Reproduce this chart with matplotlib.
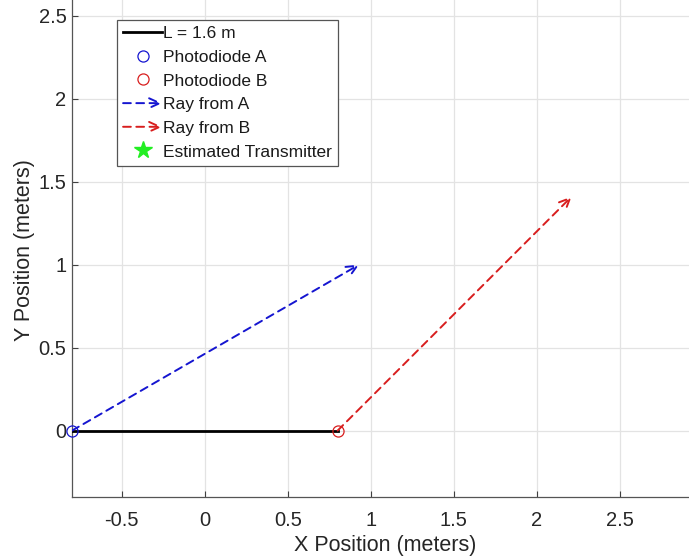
import matplotlib
matplotlib.use("Agg")
import matplotlib.pyplot as plt
from matplotlib.patches import FancyArrowPatch
from matplotlib.legend_handler import HandlerBase

# ---- data ----
baseline_x = [-0.8, 0.8]
baseline_y = [0.0, 0.0]
baseline_label = "L = 1.6 m"
photodiode_A = [-0.8, 0.0]
photodiode_B = [0.8, 0.0]
ray_A_start = [-0.8, 0.0]
ray_A_end = [0.93, 1.0]
ray_B_start = [0.8, 0.0]
ray_B_end = [2.21, 1.41]
transmitter = [2.97, 2.20]
x_ticks = [-0.5, 0, 0.5, 1, 1.5, 2, 2.5]
x_tick_labels = ["-0.5", "0", "0.5", "1", "1.5", "2", "2.5"]
y_ticks = [0, 0.5, 1, 1.5, 2, 2.5]
y_tick_labels = ["0", "0.5", "1", "1.5", "2", "2.5"]

plt.rcParams['font.family'] = ['Liberation Sans', 'DejaVu Sans']

W, H = 689, 558
fig = plt.figure(figsize=(W / 100, H / 100), dpi=100)
left_px, bottom_px = 72, 497
ax = fig.add_axes([left_px / W, (H - bottom_px) / H, 1 - left_px / W, bottom_px / H])

px_per_unit = 166.0
ax.set_xlim(-0.8, -0.8 + (W - left_px) / px_per_unit)
ax.set_ylim(-0.4, -0.4 + bottom_px / px_per_unit)

ax.grid(True, color='#e3e3e3', linewidth=0.9)
ax.set_axisbelow(True)

blue = '#1515d0'
red = '#d81e1e'

ln, = ax.plot(baseline_x, baseline_y, color='black', linewidth=2.0, label=baseline_label, zorder=3)
pa, = ax.plot([photodiode_A[0]], [photodiode_A[1]], 'o', mfc='none', mec=blue, ms=8,
              mew=0.9, label='Photodiode A', clip_on=False, zorder=4, linestyle='none')
pb, = ax.plot([photodiode_B[0]], [photodiode_B[1]], 'o', mfc='none', mec=red, ms=8,
              mew=0.9, label='Photodiode B', clip_on=False, zorder=4, linestyle='none')

dash = (0, (4.0, 2.8))
arrow_style = '->,head_length=0.55,head_width=0.25'
ra = FancyArrowPatch(tuple(ray_A_start), tuple(ray_A_end), arrowstyle=arrow_style,
                     mutation_scale=14, color=blue, linewidth=1.4, linestyle=dash,
                     shrinkA=0, shrinkB=0, zorder=3)
rb = FancyArrowPatch(tuple(ray_B_start), tuple(ray_B_end), arrowstyle=arrow_style,
                     mutation_scale=14, color=red, linewidth=1.4, linestyle=dash,
                     shrinkA=0, shrinkB=0, zorder=3)
ax.add_patch(ra)
ax.add_patch(rb)

st, = ax.plot([transmitter[0]], [transmitter[1]], '*', color='#22ee22', ms=13,
              label='Estimated Transmitter', clip_on=False, zorder=5, linestyle='none')


class HandlerArrow(HandlerBase):
    def create_artists(self, legend, orig_handle, xdescent, ydescent, width, height,
                       fontsize, trans):
        y = height / 2 - ydescent
        p = FancyArrowPatch((-xdescent, y), (width - xdescent, y),
                            arrowstyle=arrow_style, mutation_scale=14,
                            color=orig_handle.get_edgecolor(), linewidth=1.4,
                            linestyle=dash, shrinkA=0, shrinkB=0, transform=trans)
        return [p]


handles = [ln, pa, pb, ra, rb, st]
labels = [baseline_label, 'Photodiode A', 'Photodiode B', 'Ray from A', 'Ray from B',
          'Estimated Transmitter']
leg = ax.legend(handles, labels, loc='upper left',
                bbox_to_anchor=(117 / W, 1 - 20 / H), bbox_transform=fig.transFigure,
                borderaxespad=0, fontsize=12.5, handlelength=2.25, handletextpad=0.05,
                labelspacing=0.49, borderpad=0.35, fancybox=False, framealpha=1,
                edgecolor='#555555', numpoints=1,
                handler_map={ra: HandlerArrow(), rb: HandlerArrow()})
leg.get_frame().set_linewidth(0.9)
for t in leg.get_texts():
    t.set_color('#1a1a1a')

ax.set_xticks(x_ticks)
ax.set_xticklabels(x_tick_labels)
ax.set_yticks(y_ticks)
ax.set_yticklabels(y_tick_labels)
ax.tick_params(direction='in', length=4, width=0.8, colors='#404040', labelsize=14.5,
               labelcolor='#262626')
ax.tick_params(axis='x', pad=10)
ax.tick_params(axis='y', pad=4)

for s in ['top', 'right']:
    ax.spines[s].set_visible(False)
for s in ['left', 'bottom']:
    ax.spines[s].set_color('#555555')
    ax.spines[s].set_linewidth(0.9)

ax.set_xlabel('X Position (meters)', fontsize=15.5, color='#262626')
ax.set_ylabel('Y Position (meters)', fontsize=15.5, color='#262626')
ax.xaxis.label.set_verticalalignment('center')
ax.yaxis.label.set_verticalalignment('center')
ax.xaxis.set_label_coords((385 - left_px) / (W - left_px), -(546 - bottom_px) / bottom_px)
ax.yaxis.set_label_coords(-(left_px - 25) / (W - left_px), (bottom_px - 250) / bottom_px)

fig.savefig('out.png', dpi=100)
